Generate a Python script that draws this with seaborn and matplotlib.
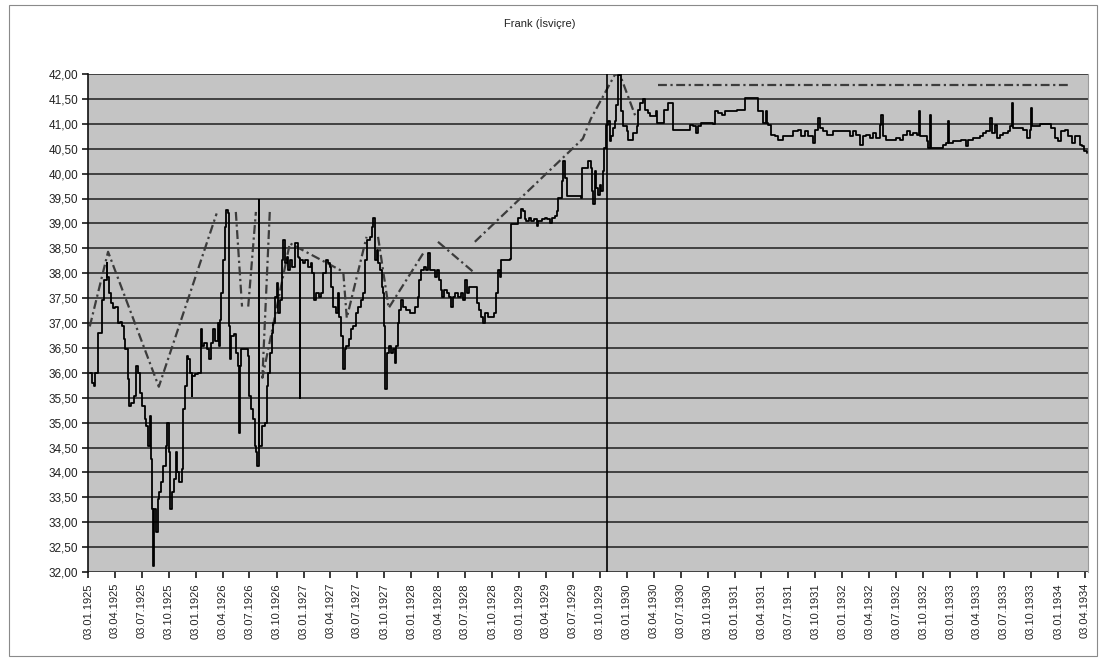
import matplotlib
matplotlib.use("Agg")
import matplotlib.pyplot as plt
import matplotlib.dates as mdates
from matplotlib.ticker import FuncFormatter, MultipleLocator
from matplotlib.patches import Rectangle
import seaborn as sns
import pandas as pd

start = pd.Timestamp("1925-01-03")

# solid series: day offset from 03.01.1925 and rate
solid_day = [
    5, 11, 20, 24, 33, 45, 54, 62, 65, 69,
    76, 84, 92, 99, 107, 115, 121, 126, 133, 138,
    146, 155, 163, 169, 175, 182, 191, 197, 203, 208,
    212, 216, 220, 223, 228, 235, 239, 246, 254, 262,
    268, 273, 277, 284, 291, 297, 302, 309, 316, 321,
    327, 333, 338, 344, 350, 352, 361, 372, 381, 386,
    392, 401, 408, 415, 423, 429, 438, 442, 447, 451,
    457, 463, 468, 474, 476, 481, 485, 493, 499, 506,
    510, 514, 519, 530, 540, 545, 551, 558, 564, 570,
    573, 577, 580, 590, 598, 604, 609, 615, 621, 626,
    632, 638, 643, 649, 655, 660, 666, 672, 677, 683,
    691, 700, 711, 715, 717, 719, 728, 736, 745, 754,
    758, 765, 773, 781, 790, 796, 804, 811, 818, 824,
    830, 838, 845, 850, 858, 864, 869, 875, 883, 890,
    897, 906, 914, 924, 931, 937, 946, 954, 960, 965,
    971, 977, 982, 988, 994, 999, 1002, 1007, 1012, 1018,
    1025, 1033, 1039, 1044, 1048, 1052, 1059, 1067, 1078, 1090,
    1101, 1107, 1116, 1120, 1129, 1138, 1146, 1152, 1157, 1165,
    1174, 1183, 1188, 1195, 1199, 1206, 1214, 1222, 1229, 1236,
    1244, 1253, 1262, 1270, 1276, 1282, 1290, 1307, 1316, 1323,
    1330, 1338, 1346, 1355, 1375, 1381, 1387, 1395, 1400, 1423,
    1428, 1434, 1451, 1457, 1466, 1474, 1479, 1485, 1493, 1502,
    1511, 1519, 1524, 1536, 1547, 1556, 1564, 1570, 1581, 1587,
    1592, 1598, 1604, 1609, 1615, 1621, 1669, 1673, 1683, 1694,
    1703, 1707, 1711, 1717, 1722, 1728, 1733, 1739, 1745, 1748,
    1753, 1756, 1762, 1767, 1773, 1779, 1784, 1790, 1796, 1801,
    1807, 1812, 1824, 1829, 1841, 1846, 1858, 1863, 1871, 1880,
    1886, 1897, 1903, 1914, 1923, 1928, 1948, 1950, 1965, 1976,
    1980, 2033, 2038, 2050, 2061, 2067, 2078, 2118, 2123, 2134,
    2146, 2157, 2185, 2197, 2219, 2225, 2265, 2270, 2281, 2287,
    2296, 2298, 2300, 2304, 2315, 2327, 2338, 2355, 2377, 2389,
    2406, 2417, 2428, 2439, 2456, 2462, 2473, 2479, 2490, 2502,
    2524, 2570, 2581, 2592, 2603, 2615, 2626, 2637, 2649, 2660,
    2671, 2682, 2688, 2694, 2705, 2722, 2739, 2750, 2761, 2773,
    2784, 2795, 2807, 2815, 2818, 2841, 2846, 2852, 2855, 2892,
    2897, 2908, 2914, 2916, 2931, 2959, 2976, 2980, 2999, 3021,
    3033, 3044, 3055, 3061, 3072, 3078, 3089, 3100, 3117, 3123,
    3131, 3134, 3168, 3180, 3191, 3194, 3199, 3225, 3253, 3264,
    3276, 3287, 3298, 3309, 3321, 3334, 3343, 3360, 3366, 3375,
    3386,
]
solid_rate = [
    36.0, 35.8, 35.73, 36.0, 36.8, 37.47, 37.87, 38.2, 37.93, 37.6,
    37.4, 37.3, 37.33, 37.0, 37.03, 36.93, 36.67, 36.47, 35.87, 35.33,
    35.4, 35.53, 36.13, 36.0, 35.6, 35.33, 35.07, 34.93, 34.53, 35.13,
    34.27, 33.27, 32.13, 33.27, 32.8, 33.47, 33.6, 33.8, 34.13, 34.53,
    35.0, 34.4, 33.27, 33.6, 33.87, 34.4, 34.0, 33.8, 34.07, 35.27,
    35.73, 36.33, 36.27, 36.0, 35.53, 35.93, 35.97, 36.0, 36.87, 36.53,
    36.6, 36.47, 36.27, 36.6, 36.87, 36.63, 37.0, 36.53, 37.07, 37.6,
    38.27, 38.93, 39.27, 39.2, 36.93, 36.27, 36.73, 36.77, 36.4, 36.13,
    34.8, 36.13, 36.47, 36.47, 36.33, 35.53, 35.27, 35.07, 34.53, 34.4,
    34.13, 39.47, 34.53, 34.93, 35.0, 35.73, 36.0, 36.4, 36.8, 37.0,
    37.53, 37.8, 37.2, 37.47, 38.27, 38.67, 38.2, 38.33, 38.07, 38.27,
    38.13, 38.6, 38.33, 38.3, 35.5, 38.27, 38.2, 38.27, 38.13, 38.2,
    38.0, 37.47, 37.6, 37.53, 37.6, 38.0, 38.27, 38.2, 38.13, 37.73,
    37.33, 37.2, 37.6, 37.13, 36.73, 36.07, 36.47, 36.53, 36.67, 36.87,
    36.93, 37.2, 37.33, 37.47, 37.6, 38.27, 38.67, 38.73, 38.93, 39.1,
    38.27, 38.47, 38.2, 38.07, 37.73, 37.6, 36.93, 35.67, 36.4, 36.53,
    36.4, 36.47, 36.2, 36.53, 37.0, 37.27, 37.47, 37.33, 37.27, 37.2,
    37.2, 37.33, 37.53, 37.87, 38.07, 38.13, 38.07, 38.4, 38.07, 38.07,
    37.93, 38.07, 37.87, 37.67, 37.53, 37.67, 37.6, 37.53, 37.33, 37.53,
    37.6, 37.53, 37.6, 37.47, 37.87, 37.6, 37.73, 37.73, 37.4, 37.27,
    37.13, 37.0, 37.2, 37.13, 37.2, 37.6, 38.07, 37.93, 38.27, 38.27,
    38.28, 38.98, 38.98, 39.11, 39.28, 39.25, 39.08, 39.05, 39.11, 39.05,
    39.08, 38.95, 39.05, 39.08, 39.11, 39.08, 39.01, 39.11, 39.15, 39.25,
    39.51, 39.51, 39.85, 40.25, 39.91, 39.55, 39.51, 40.11, 40.11, 40.25,
    40.11, 39.65, 39.38, 40.05, 39.71, 39.58, 39.78, 39.65, 40.05, 40.51,
    40.71, 40.98, 41.05, 40.65, 40.75, 40.91, 41.05, 41.38, 41.98, 42.05,
    41.25, 40.95, 40.85, 40.68, 40.68, 40.81, 40.95, 41.28, 41.41, 41.49,
    41.28, 41.21, 41.15, 41.15, 41.25, 41.01, 41.01, 41.28, 41.41, 41.41,
    40.88, 40.88, 40.98, 40.95, 40.81, 40.95, 41.01, 40.99, 41.25, 41.21,
    41.18, 41.25, 41.25, 41.28, 41.28, 41.51, 41.51, 41.25, 41.25, 41.01,
    41.01, 41.25, 41.01, 40.98, 40.78, 40.75, 40.68, 40.75, 40.75, 40.85,
    40.88, 40.75, 40.85, 40.75, 40.61, 40.88, 41.11, 40.91, 40.85, 40.78,
    40.85, 40.85, 40.75, 40.85, 40.78, 40.58, 40.75, 40.78, 40.71, 40.81,
    40.71, 40.98, 41.18, 40.75, 40.68, 40.68, 40.71, 40.68, 40.78, 40.85,
    40.78, 40.81, 40.78, 41.25, 40.75, 40.65, 40.51, 41.18, 40.51, 40.51,
    40.58, 40.61, 41.05, 40.61, 40.65, 40.68, 40.55, 40.68, 40.71, 40.75,
    40.81, 40.85, 41.11, 40.81, 40.98, 40.71, 40.78, 40.81, 40.85, 40.95,
    41.41, 40.91, 40.88, 40.71, 40.88, 41.31, 40.95, 41.0, 41.0, 40.91,
    40.71, 40.65, 40.85, 40.88, 40.75, 40.61, 40.75, 40.58, 40.55, 40.45,
    40.41,
]

# dash-dot series, drawn as separate pieces
dash_seg = [0, 0, 0, 0, 1, 1, 2, 2, 3, 3, 3, 3, 3, 3, 4, 4, 4, 5, 5,
            6, 6, 6, 6, 6, 6, 7, 7]
dash_day = [5, 67, 239, 435, 500, 521, 542, 568, 615, 590, 683, 864, 876, 943,
            982, 1018, 1135, 1185, 1310, 1310, 1676, 1703, 1784, 1801, 1855,
            1931, 3321]
dash_rate = [36.93, 38.43, 35.72, 39.2, 39.23, 37.33, 37.33, 39.23,
             39.23, 35.9, 38.6, 38.03, 37.1, 38.73, 38.73, 37.3, 38.4,
             38.63, 38.0, 38.63, 40.7, 41.1, 41.98, 42.0, 41.14,
             41.78, 41.78]

crash_day = "1929-10-28"
title = "Frank (İsviçre)"

solid = pd.DataFrame({"date": start + pd.to_timedelta(solid_day, unit="D"),
                      "rate": solid_rate})
dash = pd.DataFrame({"date": start + pd.to_timedelta(dash_day, unit="D"),
                     "rate": dash_rate, "seg": dash_seg})

sns.set_theme(style="ticks", rc={"axes.facecolor": "#c4c4c4",
                                 "axes.edgecolor": "#111111"})
plt.rcParams["font.family"] = ["Liberation Sans", "DejaVu Sans"]

fig = plt.figure(figsize=(11.06, 6.61), dpi=100)
ax = fig.add_axes([88 / 1106, 1 - 572 / 661, 1000 / 1106, 498 / 661])

ax.yaxis.grid(True, color="#1e1e1e", lw=1.1)
ax.set_axisbelow(True)

sns.lineplot(data=dash, x="date", y="rate", units="seg", estimator=None,
             sort=False, color="#3c3c3c", lw=1.6,
             linestyle=(0, (4, 1.6, 1, 1.6)), ax=ax)
sns.lineplot(data=solid, x="date", y="rate", estimator=None, sort=False,
             color="black", lw=1.3, drawstyle="steps-post", ax=ax)
ax.axvline(pd.Timestamp(crash_day), color="black", lw=1.2)

ax.set_ylim(32, 42)
ax.yaxis.set_major_locator(MultipleLocator(0.5))
ax.yaxis.set_major_formatter(FuncFormatter(lambda v, _: f"{v:.2f}".replace(".", ",")))
ax.set_xlim(start - pd.Timedelta(days=1), start + pd.Timedelta(days=3388))
ticks = pd.date_range("1925-01-01", "1934-04-01", freq="3MS") + pd.Timedelta(days=2)
ax.set_xticks(ticks)
ax.xaxis.set_major_formatter(mdates.DateFormatter("%d.%m.%Y"))
ax.tick_params(axis="x", labelrotation=90, labelsize=8, length=4, pad=4,
               colors="#222222")
ax.tick_params(axis="y", labelsize=8.5, length=4, pad=3, colors="#222222")
ax.set_xlabel("")
ax.set_ylabel("")

for side in ["top", "bottom"]:
    ax.spines[side].set_visible(False)
ax.spines["right"].set_color("#9a9a9a")
ax.spines["right"].set_linewidth(0.8)
ax.spines["left"].set_linewidth(1.2)

fig.text(0.488, 0.965, title, ha="center", va="center", fontsize=8,
         color="#222222")
fig.patches.append(Rectangle((0.008, 0.008), 0.984, 0.985,
                             transform=fig.transFigure, fill=False,
                             edgecolor="#8a8a8a", lw=0.8))

fig.savefig("out.png", dpi=100)
